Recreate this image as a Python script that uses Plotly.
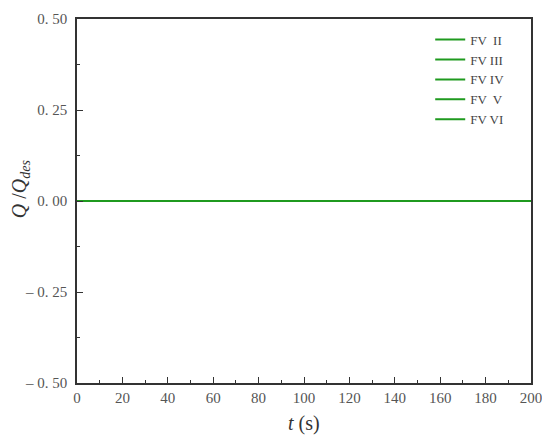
import plotly.graph_objects as go

# data: flow ratio for each valve, flat at zero over the run
t_s = [0, 50, 100, 150, 200]
fv_ii = [0, 0, 0, 0, 0]
fv_iii = [0, 0, 0, 0, 0]
fv_iv = [0, 0, 0, 0, 0]
fv_v = [0, 0, 0, 0, 0]
fv_vi = [0, 0, 0, 0, 0]

names = ['FV  II', 'FV III', 'FV IV', 'FV  V', 'FV VI']
series = [fv_ii, fv_iii, fv_iv, fv_v, fv_vi]

y_ticks = [-0.5, -0.25, 0, 0.25, 0.5]
y_text = ['\u2013 0. 50', '\u2013 0. 25', '0. 00', '0. 25', '0. 50']
x_ticks = list(range(0, 201, 20))

serif = 'Liberation Serif'
green = '#1f9a1f'

fig = go.Figure()
for nm, ys in zip(names, series):
    fig.add_trace(go.Scatter(x=t_s, y=ys, mode='lines', name=nm,
                             line=dict(color=green, width=2)))

axis_common = dict(showline=True, linecolor='#333', linewidth=1.5, mirror=True,
                   showgrid=False, zeroline=False, ticks='inside', ticklen=6,
                   tickwidth=1.3, tickcolor='#333', automargin=False,
                   tickfont=dict(family=serif, size=15, color='#555'))

fig.update_xaxes(range=[0, 200], tickvals=x_ticks,
                 minor=dict(ticks='inside', ticklen=3, tickwidth=1.2, tickcolor='#333', dtick=10),
                 **axis_common)
fig.update_yaxes(range=[-0.5, 0.5], tickvals=y_ticks, ticktext=y_text, ticklabelstandoff=5,
                 minor=dict(ticks='inside', ticklen=3, tickwidth=1.2, tickcolor='#333', dtick=0.125),
                 **axis_common)

# axis titles as annotations so they land where the original has them
fig.add_annotation(text='<i>Q</i> /<i>Q<sub>des</sub></i>', xref='paper', yref='paper',
                   x=-0.123, y=0.533, xanchor='center', yanchor='middle', textangle=-90,
                   showarrow=False, font=dict(family=serif, size=20, color='#333'))
fig.add_annotation(text='<i>t</i> (s)', xref='paper', yref='paper',
                   x=0.5, y=-0.1126, xanchor='center', yanchor='middle',
                   showarrow=False, font=dict(family=serif, size=20, color='#333'))

# page body adds an 8px margin, so the figure is sized to sit inside the window
fig.update_layout(width=542, height=434, plot_bgcolor='white', paper_bgcolor='white',
                  margin=dict(l=69, r=19, t=11, b=59),
                  legend=dict(x=0.778, y=0.9845, xanchor='left', yanchor='top',
                              bgcolor='rgba(0,0,0,0)', tracegroupgap=0,
                              font=dict(family=serif, size=13, color='#444')))

fig.write_html("out.html")
